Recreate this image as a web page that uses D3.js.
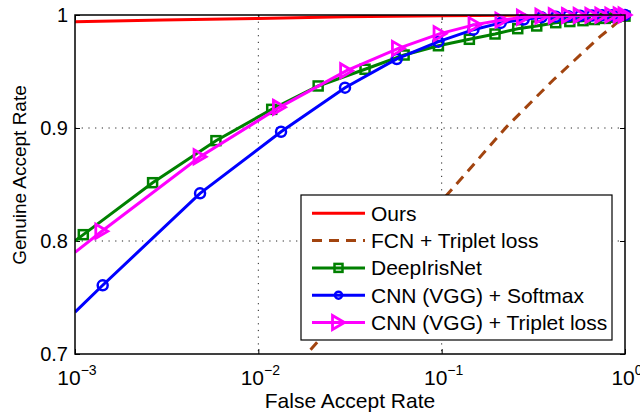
<!DOCTYPE html>
<html>
<head>
<meta charset="utf-8">
<script src="https://cdn.jsdelivr.net/npm/d3@7"></script>
<style>
  body { margin: 0; background: #fff; }
  svg text { font-family: "Liberation Sans", Arial, Helvetica, sans-serif; fill: #000; }
</style>
</head>
<body>
<div id="chart"></div>
<script>
// ROC curves: Genuine Accept Rate vs False Accept Rate (log x)

// ==========================================================
// Data (FAR, GAR)

var oursFAR = [0.001, 0.003, 0.01, 0.03, 0.1, 0.3, 1];
var oursGAR = [0.994, 0.9955, 0.997, 0.9985, 0.9994, 1.0, 1.0];

var fcnFAR = [0.008, 0.0184, 0.05, 0.1067, 0.2265, 0.406, 0.731, 1];
var fcnGAR = [0.638, 0.700, 0.780, 0.8407, 0.9012, 0.9425, 0.9808, 0.999];

var irisFAR = [0.001, 0.00111, 0.00265, 0.00587, 0.01183, 0.0212, 0.0382, 0.0624, 0.096, 0.1416,
               0.1955, 0.26, 0.33, 0.419, 0.5, 0.59, 0.68, 0.78, 0.89, 1];
var irisGAR = [0.800, 0.8056, 0.8516, 0.8888, 0.9165, 0.9372, 0.952, 0.9646, 0.9728, 0.9785,
               0.9832, 0.9879, 0.9903, 0.9932, 0.9942, 0.995, 0.996, 0.997, 0.998, 0.999];

var softFAR = [0.001, 0.001416, 0.00481, 0.0133, 0.0297, 0.0569, 0.096, 0.149, 0.21, 0.28,
               0.35, 0.42, 0.49, 0.57, 0.66, 0.75, 0.85, 0.94, 1];
var softGAR = [0.737, 0.7608, 0.8422, 0.8967, 0.9357, 0.9611, 0.9764, 0.987, 0.993, 0.996,
               0.998, 0.9985, 0.999, 0.9993, 0.9995, 0.9997, 0.9998, 0.9999, 1.0];

var tripFAR = [0.001, 0.0014, 0.00481, 0.01303, 0.0303, 0.0581, 0.098, 0.152, 0.213, 0.279,
               0.352, 0.416, 0.491, 0.569, 0.659, 0.747, 0.847, 0.94, 1];
var tripGAR = [0.790, 0.8086, 0.8746, 0.9183, 0.9507, 0.9705, 0.9835, 0.9915, 0.9955, 0.998,
               0.999, 0.9993, 0.9995, 0.9996, 0.9997, 0.9998, 0.9999, 1.0, 1.0];

var seriesNames = ["Ours", "FCN + Triplet loss", "DeepIrisNet", "CNN (VGG) + Softmax", "CNN (VGG) + Triplet loss"];
var xTickValues = [0.001, 0.01, 0.1, 1];
var xTickExps = ["\u22123", "\u22122", "\u22121", "0"];
var yTickValues = [0.7, 0.8, 0.9, 1];
var yTickLabels = ["0.7", "0.8", "0.9", "1"];

// ==========================================================
// Set margins

var svgWidth = 640;
var svgHeight = 416;

var margin = { top: 15, right: 15, bottom: 62, left: 75 };

var width = svgWidth - margin.left - margin.right;
var height = svgHeight - margin.top - margin.bottom;

var svg = d3.select("#chart")
  .append("svg")
  .attr("width", svgWidth)
  .attr("height", svgHeight);

var chartGroup = svg.append("g")
  .attr("transform", `translate(${margin.left}, ${margin.top})`);

// scales
var xLogScale = d3.scaleLog().domain([0.001, 1]).range([0, width]);
var yLinearScale = d3.scaleLinear().domain([0.7, 1]).range([height, 0]);

// clip for lines
svg.append("defs").append("clipPath").attr("id", "plotclip")
  .append("rect").attr("width", width).attr("height", height);

// ===========================================================
// grid (dotted)
var gridGroup = chartGroup.append("g");
[0.01, 0.1].forEach(function(v) {
  gridGroup.append("line")
    .attr("x1", xLogScale(v)).attr("x2", xLogScale(v))
    .attr("y1", 0).attr("y2", height)
    .attr("stroke", "#222").attr("stroke-width", 1)
    .attr("stroke-dasharray", "1.2,5.5");
});
[0.8, 0.9].forEach(function(v) {
  gridGroup.append("line")
    .attr("x1", 0).attr("x2", width)
    .attr("y1", yLinearScale(v)).attr("y2", yLinearScale(v))
    .attr("stroke", "#222").attr("stroke-width", 1)
    .attr("stroke-dasharray", "1.2,5.5");
});

// ===========================================================
// axes with inward ticks
function styleAxis(g) {
  g.select(".domain").remove();
  g.selectAll(".tick line").attr("stroke", "#000").attr("stroke-width", 1);
}
chartGroup.append("g").attr("transform", `translate(0, ${height})`)
  .call(d3.axisBottom(xLogScale).tickValues(xTickValues).tickSize(-5).tickFormat(""))
  .call(styleAxis);
chartGroup.append("g")
  .call(d3.axisTop(xLogScale).tickValues(xTickValues).tickSize(-5).tickFormat(""))
  .call(styleAxis);
chartGroup.append("g")
  .call(d3.axisLeft(yLinearScale).tickValues(yTickValues).tickSize(-5).tickFormat(""))
  .call(styleAxis);
chartGroup.append("g").attr("transform", `translate(${width}, 0)`)
  .call(d3.axisRight(yLinearScale).tickValues(yTickValues).tickSize(-5).tickFormat(""))
  .call(styleAxis);

// tick labels
xTickValues.forEach(function(v, i) {
  var t = chartGroup.append("text")
    .attr("x", xLogScale(v) + 2)
    .attr("y", height + 31)
    .attr("text-anchor", "middle")
    .style("font-size", "21px");
  t.append("tspan").text("10");
  t.append("tspan").attr("dy", -10).style("font-size", "14px").text(xTickExps[i]);
});
yTickValues.forEach(function(v, i) {
  chartGroup.append("text")
    .attr("x", -7)
    .attr("y", yLinearScale(v))
    .attr("dy", "0.36em")
    .attr("text-anchor", "end")
    .style("font-size", "20px")
    .text(yTickLabels[i]);
});

// axis titles
chartGroup.append("text")
  .attr("x", width / 2)
  .attr("y", height + 54)
  .attr("text-anchor", "middle")
  .style("font-size", "21px")
  .text("False Accept Rate");

chartGroup.append("text")
  .attr("transform", "rotate(-90)")
  .attr("x", -(175 - margin.top))
  .attr("y", -49)
  .attr("text-anchor", "middle")
  .style("font-size", "19px")
  .text("Genuine Accept Rate");

// ===========================================================
// series
var series = [
  { name: seriesNames[0], far: oursFAR, gar: oursGAR, color: "#ff0000", dash: null, marker: null },
  { name: seriesNames[1], far: fcnFAR, gar: fcnGAR, color: "#a2440f", dash: "10,7", marker: null },
  { name: seriesNames[2], far: irisFAR, gar: irisGAR, color: "#008000", dash: null, marker: "square" },
  { name: seriesNames[3], far: softFAR, gar: softGAR, color: "#0000ff", dash: null, marker: "circle" },
  { name: seriesNames[4], far: tripFAR, gar: tripGAR, color: "#ff00ff", dash: null, marker: "triangle" }
];

var line = d3.line()
  .x(d => xLogScale(d[0]))
  .y(d => yLinearScale(d[1]));

function drawMarker(g, type, color, big) {
  if (type === "square") {
    var s = big ? 9 : 8;
    g.append("rect").attr("x", -s / 2).attr("y", -s / 2).attr("width", s).attr("height", s)
      .attr("fill", "none").attr("stroke", color).attr("stroke-width", 2.5);
  } else if (type === "circle") {
    g.append("circle").attr("r", big ? 5 : 3.5)
      .attr("fill", "none").attr("stroke", color).attr("stroke-width", 2.5);
  } else if (type === "triangle") {
    var w = 12, h = 14;
    g.append("path").attr("d", `M${-w / 2},${-h / 2}L${w / 2},0L${-w / 2},${h / 2}Z`)
      .attr("fill", "none").attr("stroke", color).attr("stroke-width", 2.8)
      .attr("stroke-linejoin", "miter");
  }
}

series.forEach(function(s) {
  var pts = s.far.map((f, i) => [f, s.gar[i]]);
  chartGroup.append("path")
    .datum(pts)
    .attr("clip-path", "url(#plotclip)")
    .attr("fill", "none")
    .attr("stroke", s.color)
    .attr("stroke-width", 3)
    .attr("stroke-dasharray", s.dash)
    .attr("d", line);
  if (s.marker) {
    pts.filter(d => d[0] > 0.001).forEach(function(d) {
      var g = chartGroup.append("g")
        .attr("transform", `translate(${xLogScale(d[0])}, ${yLinearScale(d[1])})`);
      drawMarker(g, s.marker, s.color, true);
    });
  }
});

// frame
chartGroup.append("rect")
  .attr("width", width).attr("height", height)
  .attr("fill", "none").attr("stroke", "#000").attr("stroke-width", 1.5);

// ===========================================================
// legend
var legend = svg.append("g").attr("transform", "translate(301, 195)");
legend.append("rect")
  .attr("width", 311).attr("height", 145)
  .attr("fill", "#fff").attr("stroke", "#000").attr("stroke-width", 1.2);

series.forEach(function(s, i) {
  var yy = 18.3 + i * 27.3;
  legend.append("line")
    .attr("x1", 11).attr("x2", 64).attr("y1", yy).attr("y2", yy)
    .attr("stroke", s.color).attr("stroke-width", 3)
    .attr("stroke-dasharray", s.dash);
  if (s.marker) {
    var g = legend.append("g").attr("transform", `translate(37.5, ${yy})`);
    drawMarker(g, s.marker, s.color, false);
  }
  legend.append("text")
    .attr("x", 70)
    .attr("y", yy)
    .attr("dy", "0.36em")
    .style("font-size", "21px")
    .text(s.name);
});
</script>
</body>
</html>
